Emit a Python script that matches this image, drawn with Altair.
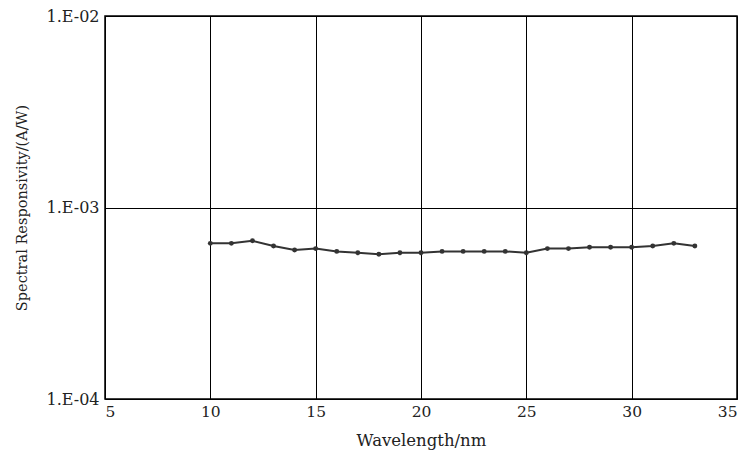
import altair as alt
import pandas as pd

wavelength = list(range(10, 34))
responsivity = [6.5e-4, 6.5e-4, 6.7e-4, 6.3e-4, 6.0e-4, 6.1e-4, 5.9e-4, 5.8e-4,
                5.7e-4, 5.8e-4, 5.8e-4, 5.9e-4, 5.9e-4, 5.9e-4, 5.9e-4, 5.8e-4,
                6.1e-4, 6.1e-4, 6.2e-4, 6.2e-4, 6.2e-4, 6.3e-4, 6.5e-4, 6.3e-4]
x_ticks = [5, 10, 15, 20, 25, 30, 35]
y_ticks = [1e-4, 1e-3, 1e-2]

df = pd.DataFrame({"wl": wavelength, "r": responsivity})

font = "DejaVu Serif"

x = alt.X("wl:Q", scale=alt.Scale(domain=[5, 35], nice=False),
          axis=alt.Axis(values=x_ticks, title="Wavelength/nm", grid=True,
                        gridColor="black", gridOpacity=1, gridWidth=1,
                        ticks=False, domain=False, labelPadding=5, titlePadding=13,
                        labelFont=font, titleFont=font, labelFontSize=15.5, titleFontSize=16.5,
                        titleFontWeight="normal", labelColor="#222", titleColor="#222"))
y = alt.Y("r:Q", scale=alt.Scale(type="log", domain=[1e-4, 1e-2], nice=False),
          axis=alt.Axis(values=y_ticks, title="Spectral Responsivity/(A/W)", grid=True,
                        gridColor="black", gridOpacity=1, gridWidth=1,
                        labelExpr="'1.E-0' + round(-log(datum.value)/LN10)",
                        ticks=False, domain=False, labelPadding=6, titlePadding=16,
                        labelFont=font, titleFont=font, labelFontSize=16, titleFontSize=14.5,
                        titleFontWeight="normal", labelColor="#222", titleColor="#222"))

line = alt.Chart(df).mark_line(color="#333333", strokeWidth=2).encode(x=x, y=y)
pts = alt.Chart(df).mark_point(filled=True, color="#333333", size=24, opacity=1).encode(x=x, y=y)

chart = (line + pts).properties(
    width=632, height=383,
    autosize=alt.AutoSizeParams(type="none"),
    padding={"left": 97, "top": 8, "right": 6, "bottom": 55},
).configure_view(stroke="black", strokeWidth=1.5)

chart.save("out.html", embed_options={"renderer": "svg", "actions": False})
